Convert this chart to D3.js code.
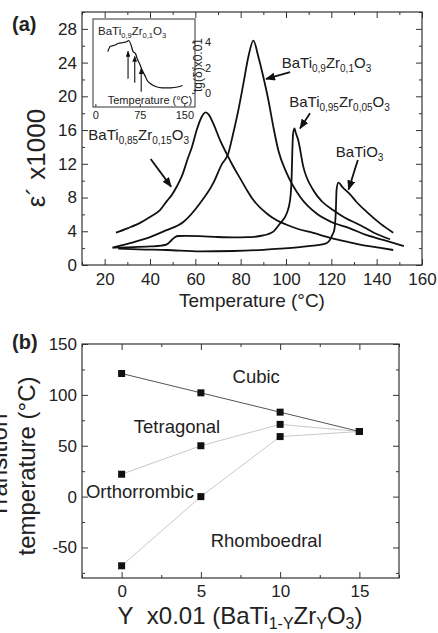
<!DOCTYPE html>
<html>
<head>
<meta charset="utf-8">
<script src="https://cdn.jsdelivr.net/npm/d3@7"></script>
<style>
body { margin: 0; background: #fff; }
svg { font-family: "Liberation Sans", Arial, sans-serif; }
.ax line { stroke: #333; stroke-width: 1; }
.ax text { fill: #222; }
</style>
</head>
<body>
<div id="chart"></div>
<script>
// ---------- data, panel (a): eps' x1000 vs temperature ----------
const tempTicks = [20, 40, 60, 80, 100, 120, 140, 160];
const tempMinor = [10, 30, 50, 70, 90, 110, 130, 150];
const epsTicks = [0, 4, 8, 12, 16, 20, 24, 28];
const epsMinor = [2, 6, 10, 14, 18, 22, 26, 30];

const batio3 = [[26,1.95],[35,1.85],[47.4,1.78],[62,1.62],[76.7,1.66],[90,1.8],[97.3,1.94],[105,2.1],
  [112,2.3],[116,2.45],[118,2.6],[119.4,3.0],[120.5,3.6],[121.3,4.15],[122,6.5],[122.3,8.9],[123.1,9.77],
  [125,9.2],[128.2,8.4],[131,7.5],[135.6,6.3],[141.5,4.94],[147.3,3.83]];
const bzt05 = [[23.5,2.05],[30,2.1],[40,2.2],[45,2.3],[47.4,2.45],[49.6,2.97],[51,3.3],[52.5,3.44],
  [56,3.45],[62,3.42],[70,3.32],[76.7,3.28],[83,3.3],[88.5,3.44],[92,3.65],[94.4,3.96],[97.3,4.9],
  [100.3,6.1],[101.8,7.7],[102.5,10.5],[102.8,13.6],[103.1,15.5],[103.7,16.2],[104.4,15.6],[105.4,14.8],
  [107.6,11.7],[112,8.9],[116,7.5],[120.9,6.5],[126,5.6],[132.6,4.75],[139,3.8],[145.9,3.05]];
const bzt10 = [[23.5,2.05],[30,2.5],[40,3.3],[47,4.1],[54.7,5.1],[62,7.3],[67.9,9.7],[71.6,11.9],
  [74.5,13.2],[76.7,15.6],[79,18.4],[81.2,21.5],[83.4,24.7],[85.6,26.6],[87.8,24.7],[90,22.3],[92.2,19.6],
  [94.4,16.4],[96.6,13.6],[100.3,10.9],[106.2,8.1],[113.5,6.1],[120,5.1],[128.2,4.35],[135,3.6],
  [142.9,2.97],[152,2.25]];
const bzt15 = [[25,3.83],[30,4.35],[35.6,5.0],[40,5.7],[44.4,6.5],[47.5,7.6],[49.6,8.3],[52,9.4],
  [54,10.5],[56.9,12.8],[58.4,13.9],[60.6,16.0],[62.5,17.4],[64.6,18.1],[66,17.8],[67.9,16.8],[70.9,14.8],
  [73.8,13.2],[76.5,11.8],[79.7,10.3],[82.5,9.0],[85.6,7.7],[91.5,6.1],[95.9,5.3],[100,4.8],[105,4.3],
  [112,3.8],[120,3.2],[126.8,2.77],[135,2.3],[141,2.05],[147.3,1.78]];

// formula labels: text anchor and arrow, in data units
const formulas = [
  { parts: [["BaTi",0],["0,9",1],["Zr",0],["0,1",1],["O",0],["3",1]], at: [98.1, 23.37], from: [101.8, 22.86], to: [91.2, 22.06] },
  { parts: [["BaTi",0],["0,95",1],["Zr",0],["0,05",1],["O",0],["3",1]], at: [101.4, 18.78], from: [110.6, 18.0], to: [106.2, 16.2] },
  { parts: [["BaTiO",0],["3",1]], at: [122.0, 12.81], from: [131.7, 12.46], to: [127.6, 8.96] },
  { parts: [["BaTi",0],["0,85",1],["Zr",0],["0,15",1],["O",0],["3",1]], at: [12.8, 14.83], from: [40.3, 12.57], to: [49.3, 9.29] }
];

// inset: tg(delta) x0.01 of BaTi0.9Zr0.1O3
const insetTTicks = [0, 75, 150];
const insetTgTicks = [0, 2, 4];
const tgDelta = [[21,3.26],[25,3.66],[33.5,3.78],[39.1,3.92],[47.6,3.98],[53.4,4.06],[56.1,4.14],
  [60.2,3.78],[63.6,3.26],[67.5,3.12],[70.4,2.72],[74.4,2.32],[79,1.78],[83.4,1.38],[87.5,0.98],
  [93.1,0.72],[101.6,0.5],[113,0.4],[127.2,0.4],[138.6,0.46],[147.1,0.58]];
const insetArrows = [[55.1, 1.12, 3.28], [66.4, 0.8, 2.88], [77.3, 0.08, 1.92]]; // T, tg from, tg to

// ---------- data, panel (b): phase diagram ----------
const compTicks = [0, 5, 10, 15];
const compMinor = [-2.5, 2.5, 7.5, 12.5, 17.5];
const transTicks = [-50, 0, 50, 100, 150];
const transMinor = [-75, -25, 25, 75, 125];
const comp = [0, 5, 10, 15];
const tCubic = [121, 102, 83, 64];
const tTetra = [22, 50, 71, 64];
const tOrtho = [-68, 0, 59, 64];
const phases = [
  { name: "Cubic", at: [7.0, 111.5] },
  { name: "Tetragonal", at: [0.77, 62.4] },
  { name: "Orthorrombic", at: [-2.25, -1.5] },
  { name: "Rhomboedral", at: [5.62, -49.6] }
];

// ---------- setup ----------
const svg = d3.select("#chart").append("svg")
  .attr("width", 438).attr("height", 633);

const defs = svg.append("defs");
function arrowHead(id, len) {
  defs.append("marker").attr("id", id)
    .attr("viewBox", "0 0 10 8").attr("refX", 9).attr("refY", 4)
    .attr("markerWidth", len).attr("markerHeight", len * 0.8)
    .attr("markerUnits", "userSpaceOnUse").attr("orient", "auto")
    .append("path").attr("d", "M0,0L10,4L0,8Z").attr("fill", "#111");
}
arrowHead("ah", 10);
arrowHead("ahs", 6);

// frame with inward ticks on all four sides
function frame(g, x, y, xMaj, xMin, yMaj, yMin, opt) {
  const w = x.range()[1], h = y.range()[0];
  const put = (axis, tr) => g.append("g").attr("class", "ax").attr("transform", tr)
    .call(axis).call(s => s.select(".domain").remove());
  const lab = d => d;
  put(d3.axisBottom(x).tickValues(xMaj).tickSize(-6).tickPadding(opt.xPad).tickFormat(lab), `translate(0,${h})`);
  put(d3.axisBottom(x).tickValues(xMin).tickSize(-3).tickFormat(""), `translate(0,${h})`);
  put(d3.axisTop(x).tickValues(xMaj).tickSize(-6).tickFormat(""), "translate(0,0)");
  put(d3.axisTop(x).tickValues(xMin).tickSize(-3).tickFormat(""), "translate(0,0)");
  put(d3.axisLeft(y).tickValues(yMaj).tickSize(-6).tickPadding(opt.yPad).tickFormat(lab), "translate(0,0)");
  put(d3.axisLeft(y).tickValues(yMin).tickSize(-3).tickFormat(""), "translate(0,0)");
  put(d3.axisRight(y).tickValues(yMaj).tickSize(-6).tickFormat(""), `translate(${w},0)`);
  put(d3.axisRight(y).tickValues(yMin).tickSize(-3).tickFormat(""), `translate(${w},0)`);
  g.selectAll(".ax text").attr("font-size", 17).attr("font-family", "Liberation Sans, Arial, sans-serif");
  g.append("rect").attr("width", w).attr("height", h)
    .attr("fill", "none").attr("stroke", "#333").attr("stroke-width", 1.2);
}

function richText(sel, parts, size, sub, shift) {
  const sh = shift || size * 0.3;
  parts.forEach(([t, s], i) => {
    const prev = i > 0 ? parts[i - 1][1] : 0;
    sel.append("tspan").text(t)
      .attr("font-size", s ? sub : size)
      .attr("dy", s && !prev ? sh : (!s && prev ? -sh : 0));
  });
}

// ---------- panel (a) ----------
const ga = svg.append("g").attr("transform", "translate(82,12)");
const xa = d3.scaleLinear().domain([10, 160]).range([0, 340]);
const ya = d3.scaleLinear().domain([0, 30]).range([253, 0]);

const lineA = d3.line().x(d => xa(d[0])).y(d => ya(d[1])).curve(d3.curveMonotoneX);
[batio3, bzt05, bzt10, bzt15].forEach(s => {
  ga.append("path").attr("d", lineA(s)).attr("fill", "none")
    .attr("stroke", "#111").attr("stroke-width", 1.8);
});

formulas.forEach(f => {
  const t = ga.append("text").attr("x", xa(f.at[0])).attr("y", ya(f.at[1])).attr("fill", "#222");
  richText(t, f.parts, 15, 10);
  ga.append("line")
    .attr("x1", xa(f.from[0])).attr("y1", ya(f.from[1]))
    .attr("x2", xa(f.to[0])).attr("y2", ya(f.to[1]))
    .attr("stroke", "#111").attr("stroke-width", 1.8).attr("marker-end", "url(#ah)");
});

frame(ga, xa, ya, tempTicks, tempMinor, epsTicks, epsMinor, { xPad: 8, yPad: 5 });

ga.append("text").attr("x", 170).attr("y", 295).attr("text-anchor", "middle")
  .attr("font-size", 19).attr("fill", "#222").text("Temperature (°C)");
svg.append("text").attr("transform", "translate(45,158) rotate(-90)").attr("text-anchor", "middle")
  .attr("font-size", 26).attr("fill", "#222").text("ε´ x1000");
svg.append("text").attr("x", 12).attr("y", 31).attr("font-size", 20)
  .attr("font-weight", "bold").attr("fill", "#222").text("(a)");

// inset
const xi = d3.scaleLinear().domain([-4, 168]).range([93, 195]);
const yi = d3.scaleLinear().domain([-1.12, 5.84]).range([107, 19]);
const gi = svg.append("g");
gi.append("rect").attr("x", 93).attr("y", 19).attr("width", 102).attr("height", 88)
  .attr("fill", "#fff").attr("stroke", "#333").attr("stroke-width", 1);
gi.append("path")
  .attr("d", d3.line().x(d => xi(d[0])).y(d => yi(d[1])).curve(d3.curveMonotoneX)(tgDelta))
  .attr("fill", "none").attr("stroke", "#111").attr("stroke-width", 1.2);
insetArrows.forEach(a => {
  gi.append("line").attr("x1", xi(a[0])).attr("x2", xi(a[0]))
    .attr("y1", yi(a[1])).attr("y2", yi(a[2]))
    .attr("stroke", "#111").attr("stroke-width", 1.1).attr("marker-end", "url(#ahs)");
});
gi.append("g").attr("class", "ax").attr("transform", "translate(0,107)")
  .call(d3.axisBottom(xi).tickValues(insetTTicks).tickSize(-3).tickPadding(4).tickFormat(d => d))
  .call(s => s.select(".domain").remove())
  .selectAll("text").attr("font-size", 11);
gi.append("g").attr("class", "ax").attr("transform", "translate(195,0)")
  .call(d3.axisRight(yi).tickValues(insetTgTicks).tickSize(-3).tickPadding(10).tickFormat(d => d))
  .call(s => s.select(".domain").remove())
  .selectAll("text").attr("font-size", 11);
richText(gi.append("text").attr("x", 98).attr("y", 35).attr("fill", "#222"),
  [["BaTi",0],["0,9",1],["Zr",0],["0,1",1],["O",0],["3",1]], 11.5, 7.5);
gi.append("text").attr("x", 150).attr("y", 104).attr("text-anchor", "middle")
  .attr("font-size", 11).attr("fill", "#222").text("Temperature (°C)");
gi.append("text").attr("transform", "translate(202,65) rotate(-90)").attr("text-anchor", "middle")
  .attr("font-size", 12).attr("fill", "#222").text("tg(δ)x0.01");

// ---------- panel (b) ----------
const gb = svg.append("g").attr("transform", "translate(82,344)");
const xb = d3.scaleLinear().domain([-2.5, 17.5]).range([0, 317]);
const yb = d3.scaleLinear().domain([-80, 150]).range([234, 0]);

const lineB = d3.line().x(d => xb(d[0])).y(d => yb(d[1]));
[[tTetra, "#c8c8c8"], [tOrtho, "#c8c8c8"], [tCubic, "#555"]].forEach(([vals, col]) => {
  gb.append("path").attr("d", lineB(comp.map((c, i) => [c, vals[i]])))
    .attr("fill", "none").attr("stroke", col).attr("stroke-width", 1);
});
[tCubic, tTetra, tOrtho].forEach(vals => {
  gb.selectAll(null).data(comp.map((c, i) => [c, vals[i]])).enter().append("rect")
    .attr("x", d => xb(d[0]) - 3.5).attr("y", d => yb(d[1]) - 3.5)
    .attr("width", 7).attr("height", 7).attr("fill", "#111");
});
phases.forEach(p => {
  gb.append("text").attr("x", xb(p.at[0])).attr("y", yb(p.at[1]))
    .attr("font-size", 18.5).attr("fill", "#222").text(p.name);
});

frame(gb, xb, yb, compTicks, compMinor, transTicks, transMinor, { xPad: 7, yPad: 5 });

richText(svg.append("text").attr("x", 240).attr("y", 624).attr("text-anchor", "middle").attr("fill", "#222"),
  [["Y\u00a0\u00a0x0.01 (BaTi",0],["1-Y",1],["Zr",0],["Y",1],["O",0],["3",1],[")",0]], 24, 16, 4.5);
svg.append("text").attr("transform", "translate(7,466) rotate(-90)").attr("text-anchor", "middle")
  .attr("font-size", 24).attr("fill", "#222").text("Transition");
svg.append("text").attr("transform", "translate(35,466) rotate(-90)").attr("text-anchor", "middle")
  .attr("font-size", 24).attr("fill", "#222").text("temperature (°C)");
svg.append("text").attr("x", 12).attr("y", 349).attr("font-size", 20)
  .attr("font-weight", "bold").attr("fill", "#222").text("(b)");
</script>
</body>
</html>
